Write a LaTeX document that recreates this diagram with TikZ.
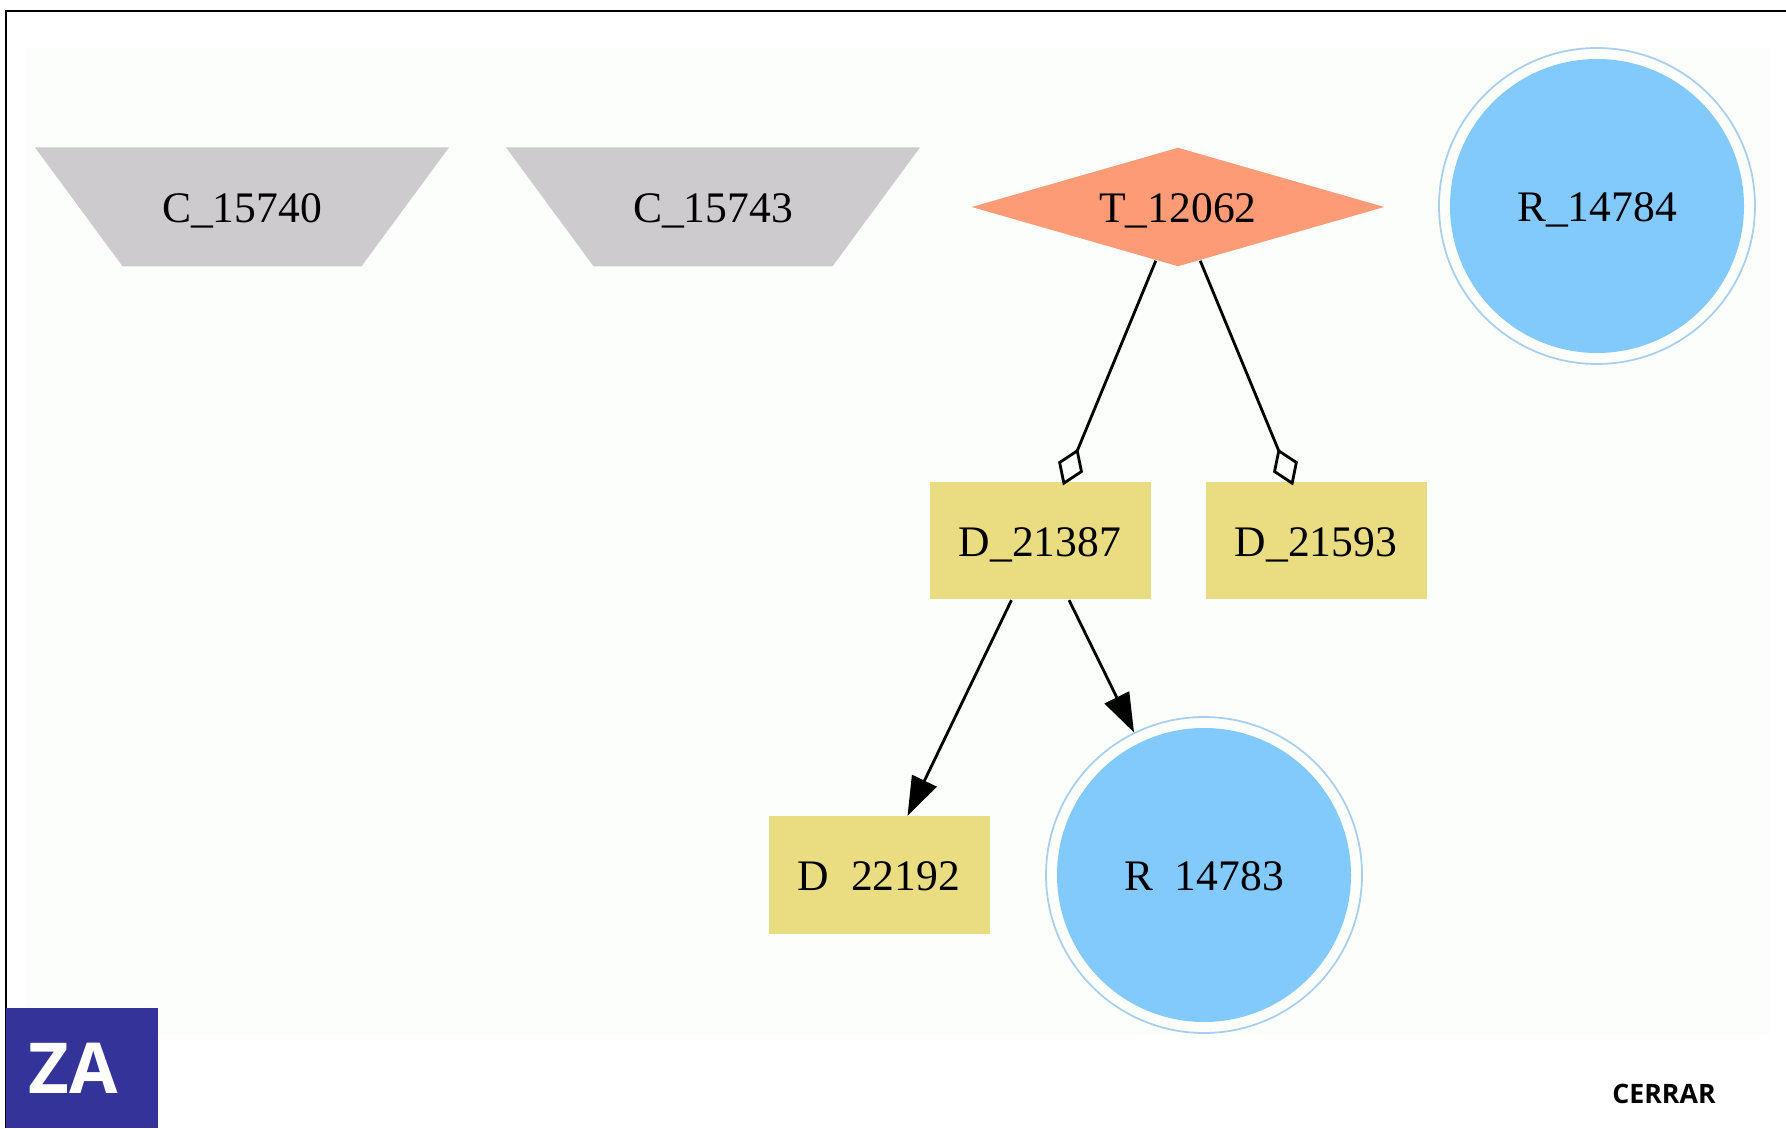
\documentclass[tikz,border=0pt]{standalone}
\usepackage{fontspec}
\setmainfont{Liberation Serif}
\setsansfont{Open Sans}
\usepackage{tikz}
\usetikzlibrary{shapes.geometric, arrows.meta}
\definecolor{panelbg}{HTML}{FCFEFC}
\definecolor{ctaupe}{HTML}{CDCBCE}
\definecolor{tsalmon}{HTML}{FD9B76}
\definecolor{dkhaki}{HTML}{E9DC81}
\definecolor{rblue}{HTML}{82CAFC}
\definecolor{rring}{HTML}{A8CFEE}
\definecolor{zablue}{HTML}{333399}
\tikzset{
  label font/.style={font=\fontsize{12.4}{15}\selectfont, text height=8.8pt, text depth=0pt},
  trap/.style={label font, trapezium, trapezium stretches=true, trapezium left angle=27.8,
    trapezium right angle=27.8, shape border rotate=180, fill=ctaupe, inner sep=0pt,
    minimum width=4.17cm, minimum height=1.19cm},
  diam/.style={label font, diamond, aspect=3.47, fill=tsalmon, inner sep=0pt,
    minimum width=4.13cm, minimum height=1.19cm},
  dbox/.style={label font, rectangle, fill=dkhaki, inner sep=0pt,
    minimum width=2.21cm, minimum height=1.17cm},
  rcirc/.style={label font, circle, draw=rring, line width=0.5pt, fill=panelbg, inner sep=0pt,
    minimum size=3.16cm,
    path picture={\fill[rblue] (path picture bounding box.center) circle (1.47);}},
  edge/.style={draw, line width=0.8pt},
  odia/.style={edge, shorten >=-0.04cm, -{Diamond[open, length=0.40cm, width=0.27cm, line width=0.8pt]}},
  tria/.style={edge, -{Triangle[length=0.39cm, width=0.27cm]}}
}
\begin{document}
\begin{tikzpicture}
    \useasboundingbox (0,0) rectangle (17.86,11.28);
    \fill[panelbg] (0.25,0.93) rectangle (17.70,10.80);
    \draw[line width=0.6pt] (0.06,0) -- (0.06,11.17) -- (17.86,11.17);
    % nodes of the graph
    \node[trap] (c1) at (2.42,9.21) {C\_15740};
    \node[trap] (c2) at (7.13,9.21) {C\_15743};
    \node[diam] (t1) at (11.78,9.21) {T\_12062};
    \node[rcirc] (r1) at (15.97,9.22) {R\_14784};
    \node[dbox] (d1) at (10.40,5.87) {D\_21387};
    \node[dbox] (d2) at (13.16,5.87) {D\_21593};
    \node[dbox] (d3) at (8.79,2.53) {D\ \ 22192};
    \node[rcirc] (r2) at (12.04,2.53) {R\ \ 14783};
    % connectors
    \draw[odia] (t1) -- (d1);
    \draw[odia] (t1) -- (d2);
    \draw[tria] (d1) -- (d3);
    \draw[tria] (d1) -- (r2);
    % footer
    \node[fill=zablue, text=white, font=\sffamily\bfseries\fontsize{20}{24}\selectfont,
      minimum width=1.52cm, minimum height=1.20cm, inner sep=0pt] (za) at (0.82,0.60) {\mbox{ZA\hspace{0.17cm}}};
    \node[font=\sffamily\bfseries\fontsize{7.6}{9}\selectfont, inner sep=0pt] (cerrar) at (16.64,0.34) {CERRAR};
\end{tikzpicture}
\end{document}
